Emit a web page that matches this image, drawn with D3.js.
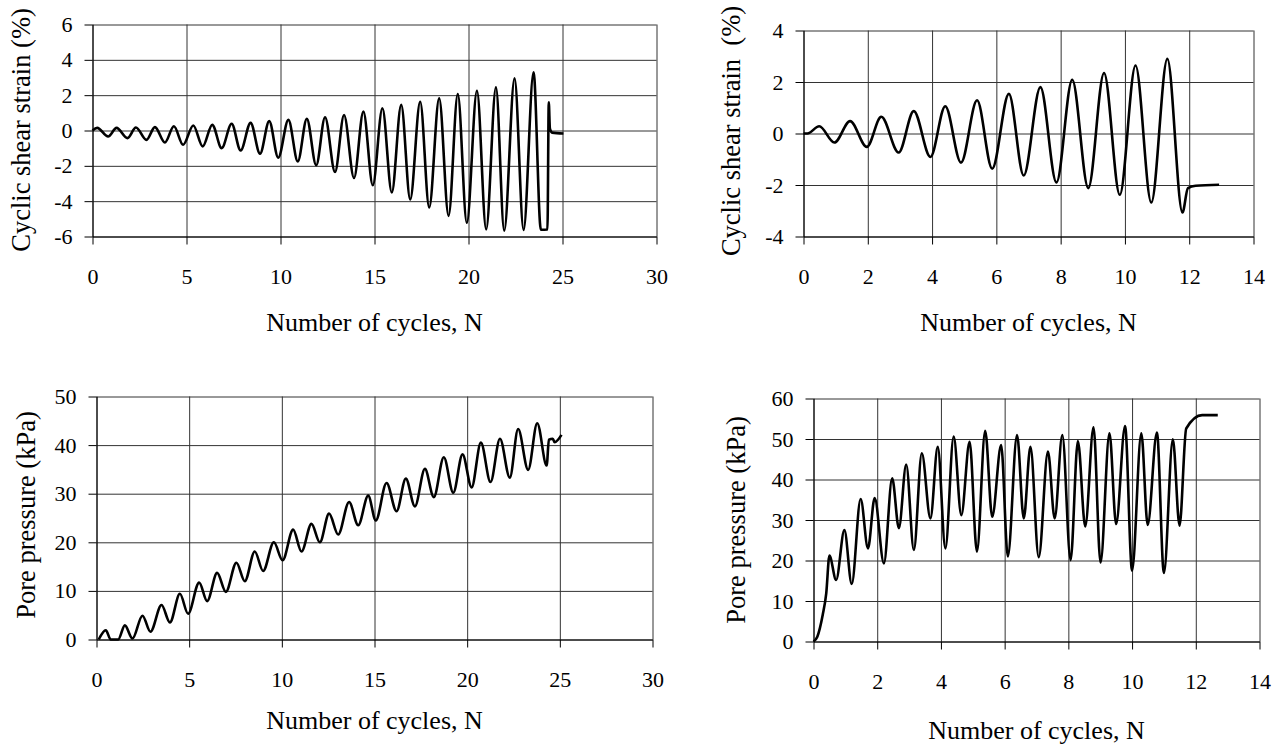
<!DOCTYPE html>
<html>
<head>
<meta charset="utf-8">
<script src="https://cdn.jsdelivr.net/npm/d3@7"></script>
<style>
  body { margin: 0; background: #fff; }
  svg { display: block; font-family: "Liberation Serif", "Times New Roman", serif; }
</style>
</head>
<body>
<div id="container"></div>
<script>
/* DATA */

// top left: cyclic shear strain (%) vs number of cycles
const strainA_N = [0, 0.25, 0.83, 1.28, 1.86, 2.31, 2.87, 3.32, 3.85, 4.33, 4.82, 5.36, 5.86, 6.37, 6.87, 7.40, 7.88, 8.41, 8.91, 9.40,
  9.88, 10.42, 10.92, 11.40, 11.90, 12.37, 12.90, 13.38, 13.91, 14.41, 14.91, 15.42, 15.92, 16.42, 16.90, 17.43, 17.91, 18.44, 18.94,
  19.43, 19.91, 20.45, 20.94, 21.46, 21.90, 22.45, 22.93, 23.46, 23.85, 24.20, 24.27, 24.33, 24.45, 25.05];
const strainA_val = [0, 0.15, -0.34, 0.15, -0.43, 0.17, -0.53, 0.19, -0.68, 0.24, -0.81, 0.28, -0.90, 0.32, -1.00, 0.38, -1.13, 0.43, -1.31, 0.53,
  -1.54, 0.60, -1.75, 0.66, -1.97, 0.75, -2.35, 0.88, -2.69, 1.07, -3.10, 1.26, -3.51, 1.45, -3.90, 1.63, -4.36, 1.82, -4.83,
  2.07, -5.22, 2.25, -5.60, 2.44, -5.67, 2.95, -5.63, 3.29, -5.62, -5.60, 1.60, 0.10, -0.12, -0.17];

// top right: cyclic shear strain (%) vs number of cycles
const strainB_N = [0, 0.12, 0.49, 0.96, 1.45, 1.97, 2.42, 2.96, 3.43, 3.95, 4.41, 4.90, 5.40, 5.87, 6.39, 6.85, 7.37, 7.87, 8.36, 8.86,
  9.35, 9.84, 10.33, 10.82, 11.32, 11.79, 11.96, 12.20, 12.93];
const strainB_val = [0, 0, 0.28, -0.35, 0.48, -0.52, 0.65, -0.74, 0.87, -0.91, 1.06, -1.13, 1.29, -1.37, 1.54, -1.63, 1.80, -1.90, 2.09, -2.12,
  2.35, -2.38, 2.64, -2.68, 2.90, -3.07, -2.12, -2.03, -1.99];

// bottom left: pore pressure (kPa) vs number of cycles
const poreC_N = [0.12, 0.50, 0.77, 1.17, 1.53, 1.94, 2.48, 2.91, 3.51, 3.96, 4.50, 4.94, 5.54, 5.97, 6.51, 6.98, 7.55, 8.00, 8.54, 8.99,
  9.57, 10.04, 10.61, 11.06, 11.60, 12.05, 12.55, 13.04, 13.63, 14.12, 14.66, 15.07, 15.65, 16.19, 16.69, 17.18, 17.72, 18.20, 18.74,
  19.25, 19.75, 20.24, 20.74, 21.26, 21.77, 22.30, 22.75, 23.29, 23.78, 24.29, 24.41, 24.62, 24.72, 25.09];
const poreC_val = [0, 1.9, 0, 0, 2.9, 0.2, 4.9, 1.6, 7.1, 3.5, 9.4, 5.3, 11.7, 7.9, 13.7, 9.8, 15.8, 12.0, 18.1, 14.1,
  20.0, 16.3, 22.6, 18.1, 23.8, 20.0, 25.9, 21.6, 28.3, 23.5, 29.6, 24.5, 32.2, 26.4, 33.1, 27.4, 35.1, 29.3, 37.5,
  30.2, 38.1, 31.3, 40.5, 32.4, 41.3, 33.3, 43.3, 34.9, 44.5, 35.8, 41.1, 41.3, 40.6, 42.1];

// bottom right: pore pressure (kPa) vs number of cycles
const poreD_N = [0, 0.12, 0.29, 0.40, 0.50, 0.71, 0.97, 1.20, 1.48, 1.71, 1.92, 2.21, 2.47, 2.68, 2.91, 3.15, 3.40, 3.67, 3.90, 4.14,
  4.40, 4.64, 4.90, 5.13, 5.39, 5.61, 5.89, 6.10, 6.39, 6.60, 6.81, 7.07, 7.36, 7.57, 7.81, 8.07, 8.30, 8.53, 8.79, 9.01,
  9.29, 9.50, 9.78, 10.00, 10.29, 10.49, 10.78, 11.00, 11.28, 11.49, 11.70, 12.20, 12.69];
const poreD_val = [0, 1.2, 6.6, 11.9, 21.2, 15.2, 27.5, 14.2, 35.2, 23.0, 35.4, 19.3, 40.3, 28.0, 43.7, 22.6, 46.5, 30.4, 48.1, 23.0,
  50.6, 31.2, 49.3, 22.2, 52.0, 30.8, 48.5, 21.0, 51.0, 30.4, 48.1, 20.8, 46.9, 30.4, 51.0, 20.1, 49.5, 28.4, 52.9, 19.5,
  51.4, 29.0, 53.2, 17.5, 51.4, 28.8, 51.6, 16.9, 49.9, 28.6, 52.6, 55.9, 55.9];

// tick values
const cyclesTicksLeft = [0, 5, 10, 15, 20, 25, 30];
const cyclesTicksRight = [0, 2, 4, 6, 8, 10, 12, 14];
const strainTicksA = [-6, -4, -2, 0, 2, 4, 6];
const strainTicksB = [-4, -2, 0, 2, 4];
const poreTicksC = [0, 10, 20, 30, 40, 50];
const poreTicksD = [0, 10, 20, 30, 40, 50, 60];

/* CONSTANTS AND GLOBALS */
const width = 1282, height = 747;
const tickLen = 8;
const serif = '"Liberation Serif", "Times New Roman", serif';
const xTitle = "Number of cycles, N";

const panels = [
  { n: strainA_N, v: strainA_val, xDomain: [0, 30], xTicks: cyclesTicksLeft, yDomain: [-6, 6], yTicks: strainTicksA,
    box: { left: 92.5, right: 656.5, top: 24.5, bottom: 236.5 }, yTitle: "Cyclic shear strain (%)", yTitleX: 21, yTitleY: 130, xTitleY: 322 },
  { n: strainB_N, v: strainB_val, xDomain: [0, 14], xTicks: cyclesTicksRight, yDomain: [-4, 4], yTicks: strainTicksB,
    box: { left: 803.5, right: 1253.5, top: 30.5, bottom: 236.5 }, yTitle: "Cyclic shear strain  (%)", yTitleX: 731, yTitleY: 131, xTitleY: 322 },
  { n: poreC_N, v: poreC_val, xDomain: [0, 30], xTicks: cyclesTicksLeft, yDomain: [0, 50], yTicks: poreTicksC,
    box: { left: 96.5, right: 652.5, top: 396.5, bottom: 639.5 }, yTitle: "Pore pressure (kPa)", yTitleX: 26, yTitleY: 515, xTitleY: 720 },
  { n: poreD_N, v: poreD_val, xDomain: [0, 14], xTicks: cyclesTicksRight, yDomain: [0, 60], yTicks: poreTicksD,
    box: { left: 813.5, right: 1259.5, top: 398.5, bottom: 641.5 }, yTitle: "Pore pressure (kPa)", yTitleX: 736, yTitleY: 520, xTitleY: 730 }
];

const svg = d3.select("#container")
  .append("svg")
  .attr("width", width)
  .attr("height", height);

svg.append("rect").attr("width", width).attr("height", height).attr("fill", "#fff");

panels.forEach(p => {
  const b = p.box;
  const w = b.right - b.left, h = b.bottom - b.top;

  /* SCALES */
  const xScale = d3.scaleLinear().domain(p.xDomain).range([b.left, b.right]);
  const yScale = d3.scaleLinear().domain(p.yDomain).range([b.bottom, b.top]);

  const g = svg.append("g");

  // grid
  g.append("g")
    .attr("transform", `translate(0,${b.bottom})`)
    .call(d3.axisBottom(xScale).tickValues(p.xTicks).tickSize(-h).tickSizeOuter(0).tickFormat(""))
    .call(s => s.select(".domain").remove())
    .call(s => s.selectAll("line").attr("stroke", "#333"));
  g.append("g")
    .attr("transform", `translate(${b.left},0)`)
    .call(d3.axisLeft(yScale).tickValues(p.yTicks).tickSize(-w).tickSizeOuter(0).tickFormat(""))
    .call(s => s.select(".domain").remove())
    .call(s => s.selectAll("line").attr("stroke", "#333"));

  // axes with outside ticks
  const xAxis = d3.axisBottom(xScale).tickValues(p.xTicks).tickSize(tickLen).tickSizeOuter(0).tickFormat(d => String(d));
  g.append("g")
    .attr("transform", `translate(0,${b.bottom})`)
    .call(xAxis)
    .attr("font-family", serif)
    .attr("font-size", 22)
    .call(s => s.selectAll("text").attr("dy", "0.35em").attr("y", 40).attr("fill", "#000"))
    .call(s => s.selectAll("line, path").attr("stroke", "#000"));

  const yAxis = d3.axisLeft(yScale).tickValues(p.yTicks).tickSize(tickLen).tickSizeOuter(0).tickFormat(d => String(d));
  g.append("g")
    .attr("transform", `translate(${b.left},0)`)
    .call(yAxis)
    .attr("font-family", serif)
    .attr("font-size", 22)
    .call(s => s.selectAll("text").attr("x", -20).attr("fill", "#000"))
    .call(s => s.selectAll("line, path").attr("stroke", "#000"));

  // data line
  const line = d3.line()
    .x((d, i) => xScale(p.n[i]))
    .y((d, i) => yScale(p.v[i]))
    .curve(d3.curveMonotoneX);

  g.append("path")
    .datum(p.v)
    .attr("d", line)
    .attr("fill", "none")
    .attr("stroke", "#000")
    .attr("stroke-width", 2.6)
    .attr("stroke-linejoin", "round");

  // titles
  g.append("text")
    .attr("x", (b.left + b.right) / 2)
    .attr("y", p.xTitleY)
    .attr("dy", "0.35em")
    .attr("text-anchor", "middle")
    .attr("font-family", serif)
    .attr("font-size", 26)
    .text(xTitle);

  g.append("text")
    .attr("transform", `translate(${p.yTitleX},${p.yTitleY}) rotate(-90)`)
    .attr("dy", "0.35em")
    .attr("text-anchor", "middle")
    .attr("font-family", serif)
    .attr("font-size", 26.5)
    .style("white-space", "pre")
    .text(p.yTitle);
});
</script>
</body>
</html>
